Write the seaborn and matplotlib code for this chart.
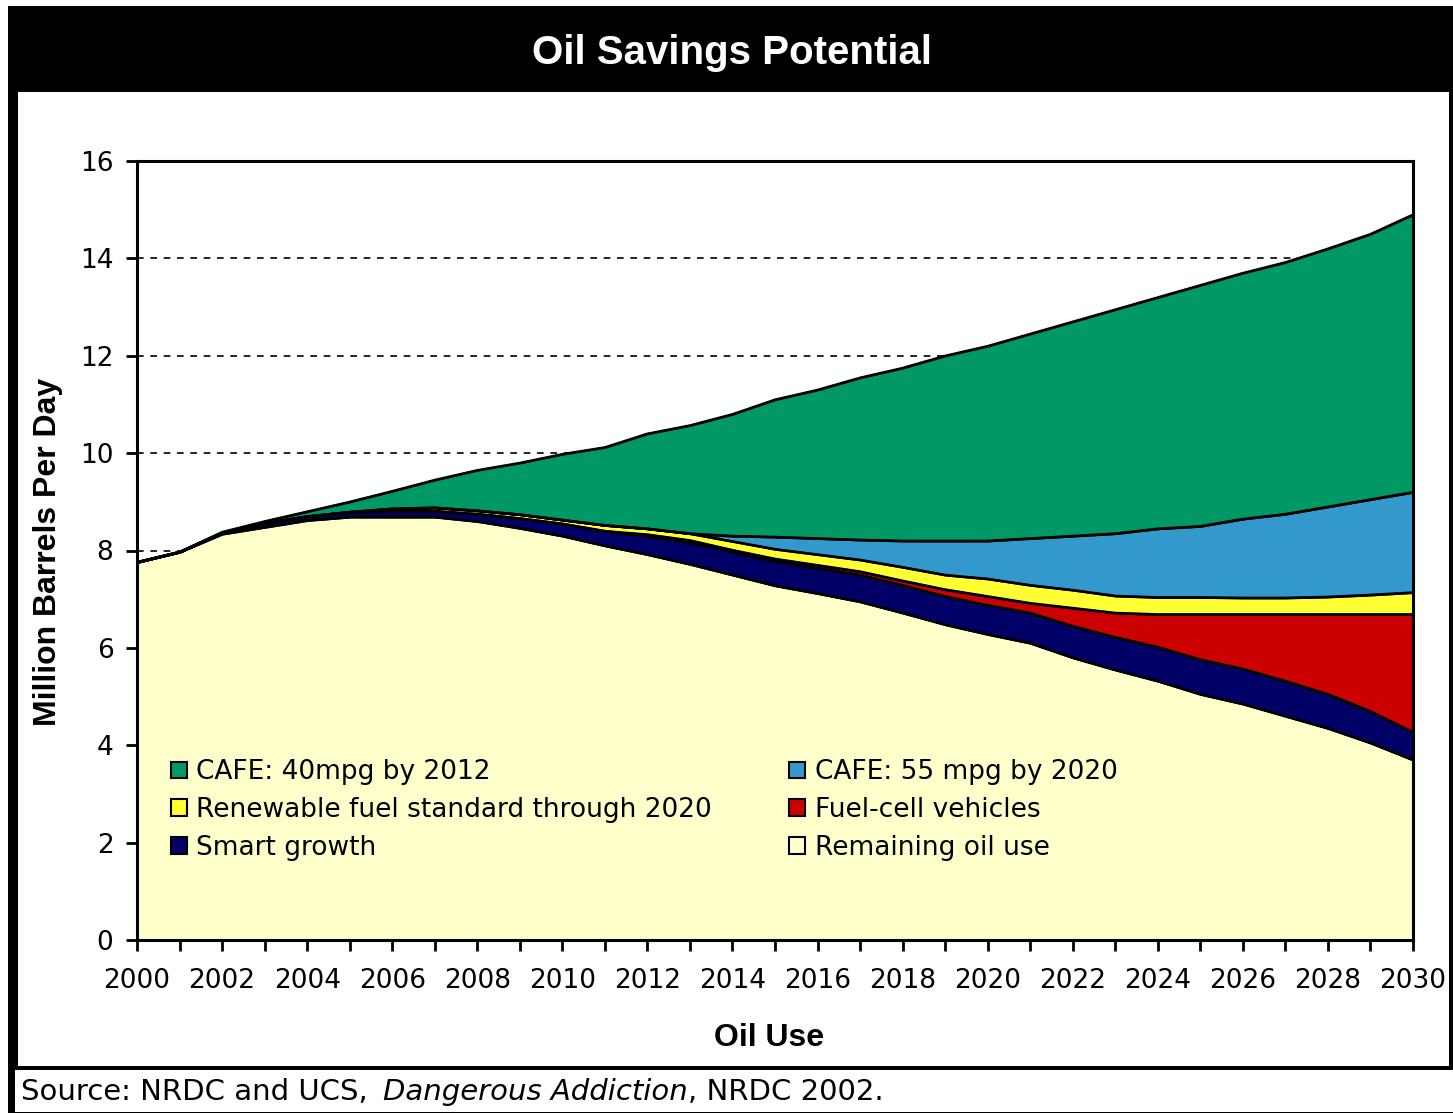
import numpy as np
import pandas as pd
import matplotlib
matplotlib.use("Agg")
import matplotlib.pyplot as plt
import seaborn as sns
from matplotlib.patches import Rectangle, Patch
from matplotlib.ticker import MultipleLocator

# ---------------- data ----------------
years = list(range(2000, 2031))
remaining = [7.76, 7.97, 8.34, 8.48, 8.62, 8.69, 8.69, 8.69, 8.60, 8.46, 8.30,
             8.10, 7.92, 7.72, 7.50, 7.28, 7.12, 6.95, 6.72, 6.48, 6.28,
             6.10, 5.80, 5.55, 5.32, 5.05, 4.85, 4.60, 4.35, 4.05, 3.70]
smart_growth = [0.00, 0.00, 0.02, 0.08, 0.08, 0.10, 0.12, 0.12, 0.15, 0.20, 0.25,
                0.30, 0.38, 0.44, 0.47, 0.50, 0.52, 0.55, 0.57, 0.58, 0.60,
                0.62, 0.65, 0.67, 0.70, 0.71, 0.72, 0.72, 0.70, 0.65, 0.57]
fuel_cell = [0.00, 0.00, 0.00, 0.00, 0.00, 0.00, 0.00, 0.00, 0.00, 0.00, 0.00,
             0.00, 0.03, 0.05, 0.04, 0.05, 0.06, 0.07, 0.09, 0.14, 0.18,
             0.20, 0.37, 0.50, 0.67, 0.93, 1.12, 1.37, 1.64, 1.99, 2.42]
renewable = [0.00, 0.00, 0.00, 0.00, 0.00, 0.00, 0.05, 0.07, 0.07, 0.08, 0.08,
             0.12, 0.12, 0.14, 0.18, 0.20, 0.22, 0.24, 0.28, 0.30, 0.36,
             0.37, 0.37, 0.35, 0.35, 0.35, 0.34, 0.34, 0.36, 0.40, 0.45]
cafe_55 = [0.00, 0.00, 0.00, 0.00, 0.00, 0.00, 0.00, 0.00, 0.00, 0.00, 0.00,
           0.00, 0.00, 0.00, 0.11, 0.25, 0.33, 0.41, 0.54, 0.70, 0.78,
           0.96, 1.11, 1.28, 1.41, 1.46, 1.62, 1.72, 1.85, 1.96, 2.06]
cafe_40 = [0.00, 0.00, 0.02, 0.04, 0.10, 0.21, 0.36, 0.57, 0.83, 1.06, 1.35,
           1.60, 1.95, 2.22, 2.50, 2.82, 3.05, 3.33, 3.55, 3.80, 4.00,
           4.20, 4.40, 4.60, 4.75, 4.95, 5.05, 5.17, 5.30, 5.45, 5.70]

series_names = ["Remaining oil use", "Smart growth", "Fuel-cell vehicles",
                "Renewable fuel standard through 2020", "CAFE: 55 mpg by 2020",
                "CAFE: 40mpg by 2012"]
series_colors = ["#FFFFCC", "#000066", "#CC0000", "#FFFF33", "#3399CC", "#009966"]
legend_order = ["CAFE: 40mpg by 2012", "Renewable fuel standard through 2020",
                "Smart growth", "CAFE: 55 mpg by 2020", "Fuel-cell vehicles",
                "Remaining oil use"]
y_ticks = list(range(0, 17, 2))
x_tick_labels = list(range(2000, 2031, 2))

df = pd.DataFrame({"year": years, series_names[0]: remaining, series_names[1]: smart_growth,
                   series_names[2]: fuel_cell, series_names[3]: renewable,
                   series_names[4]: cafe_55, series_names[5]: cafe_40})

# ---------------- style ----------------
sns.set_theme(style="white")
plt.rcParams["font.family"] = ["DejaVu Sans"]
plt.rcParams["text.color"] = "black"
plt.rcParams["axes.labelcolor"] = "black"
plt.rcParams["xtick.color"] = "black"
plt.rcParams["ytick.color"] = "black"
bold_fam = ["Liberation Sans", "DejaVu Sans"]
narrow = ["Liberation Sans Narrow", "Liberation Sans", "DejaVu Sans"]

W, H = 1453, 1114
fig = plt.figure(figsize=(W / 100, H / 100), dpi=100)
fig.patch.set_facecolor("white")

def fx(px):
    return px / W

def fy(py):
    return 1 - py / H

# frame decorations
deco = [
    (8, 6, 1453, 92),        # title band
    (8, 92, 18, 1068),       # left border
    (8, 1068, 15, 1113),     # left border source row
    (1449, 92, 1453, 1070),  # right border
    (8, 1066, 1453, 1070),   # bottom line
    (8, 1112, 1453, 1113),   # source bottom line
]
for x0, y0, x1, y1 in deco:
    fig.add_artist(Rectangle((fx(x0), fy(y1)), fx(x1) - fx(x0), fy(y0) - fy(y1),
                             transform=fig.transFigure, facecolor="black",
                             edgecolor="none", zorder=0))

fig.text(fx(732), fy(53), "Oil Savings Potential", color="white", fontsize=29,
         fontweight="bold", family=bold_fam, ha="center", va="center")

ax = fig.add_axes([fx(137), fy(940), fx(1413) - fx(137), fy(161) - fy(940)])
ax.set_facecolor("white")

# dashed grid beneath areas
for yv in y_ticks[1:]:
    ax.axhline(yv, color="black", lw=1.2, ls=(0, (4, 4)), zorder=0.5)

stack_vals = [df[n].values for n in series_names]
ax.stackplot(df["year"], *stack_vals, colors=series_colors, edgecolor="black",
             linewidth=1.6, zorder=2)

# boundary lines drawn through seaborn
cum = np.cumsum(np.vstack(stack_vals), axis=0)
for row in cum:
    sns.lineplot(x=df["year"], y=row, color="black", lw=1.6, ax=ax, zorder=3)

ax.set_xlim(2000, 2030)
ax.set_ylim(0, 16)
ax.set_xticks(x_tick_labels)
ax.set_xticklabels([str(v) for v in x_tick_labels])
ax.xaxis.set_minor_locator(MultipleLocator(1))
ax.set_yticks(y_ticks)
ax.set_yticklabels([str(v) for v in y_ticks])
ax.tick_params(axis="both", which="both", direction="out", length=8, width=2,
               color="black", labelsize=19, labelcolor="black")
ax.tick_params(axis="x", which="both", bottom=True, pad=12)
ax.tick_params(axis="y", which="major", left=True, pad=9)
ax.set_xlabel("")
ax.set_ylabel("")
for sp in ax.spines.values():
    sp.set_visible(True)
    sp.set_color("black")
    sp.set_linewidth(2.2)
    sp.set_zorder(5)

fig.text(fx(48), fy(552), "Million Barrels Per Day", rotation=90, fontsize=23,
         fontweight="bold", family=narrow, color="black", ha="center", va="center")
fig.text(fx(769), fy(1038), "Oil Use", fontsize=23, fontweight="bold",
         family=narrow, color="black", ha="center", va="center")

# legend
color_map = dict(zip(series_names, series_colors))
handles = [Patch(facecolor=color_map[n], edgecolor="black", linewidth=1.5, label=n)
           for n in legend_order]
leg = ax.legend(handles=handles, ncol=2, frameon=False, loc="upper left",
                bbox_to_anchor=(0.0265, 0.232), fontsize=19, handlelength=0.6,
                handleheight=0.6, handletextpad=0.35, columnspacing=2.95,
                labelspacing=0.45, borderpad=0, borderaxespad=0)
for t in leg.get_texts():
    t.set_color("black")

# source line (chained text pieces)
fig.canvas.draw()
renderer = fig.canvas.get_renderer()
pieces = [("Source: NRDC and UCS,", "normal", 15), ("Dangerous Addiction", "italic", 1),
          (", NRDC 2002.", "normal", 0)]
xcur = fx(21)
for txt, sty, gap in pieces:
    t = fig.text(xcur, fy(1092), txt, fontsize=21, style=sty, color="black",
                 ha="left", va="center")
    bb = t.get_window_extent(renderer=renderer)
    xcur = (bb.x1 + gap) / W

fig.savefig("out.png", dpi=100, facecolor="white")
